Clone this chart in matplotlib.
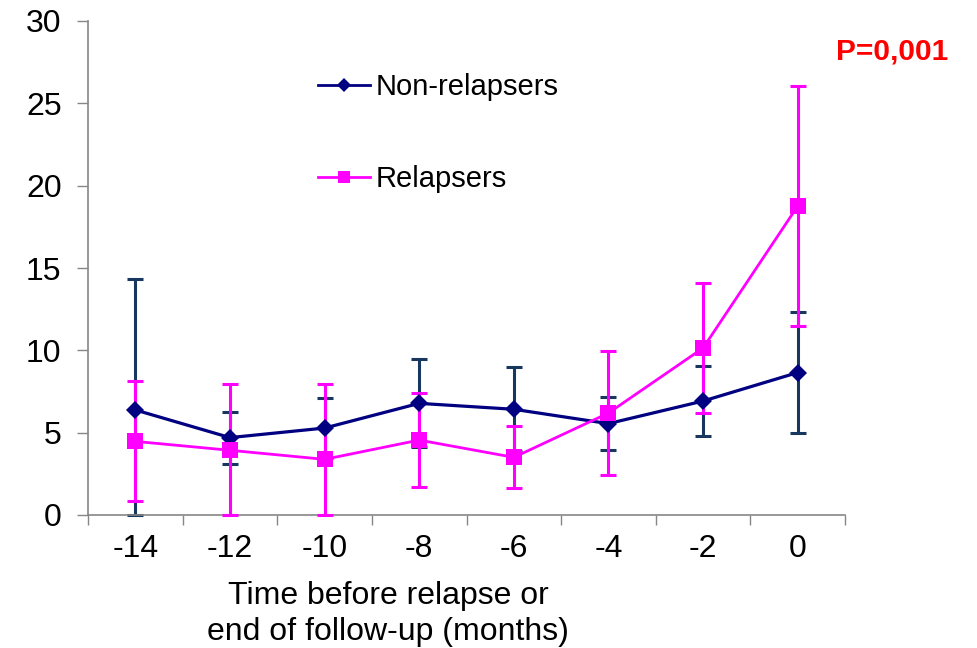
import numpy as np
import matplotlib
matplotlib.use("Agg")
import matplotlib.pyplot as plt
from matplotlib.ticker import FixedLocator
from matplotlib.lines import Line2D

plt.rcParams['font.family'] = ['Liberation Sans', 'DejaVu Sans']

months = ["-14", "-12", "-10", "-8", "-6", "-4", "-2", "0"]
non_relapsers = [6.38, 4.70, 5.28, 6.78, 6.42, 5.55, 6.92, 8.65]
non_relapsers_err = [7.95, 1.58, 1.80, 2.67, 2.55, 1.62, 2.12, 3.65]
relapsers = [4.47, 3.93, 3.38, 4.55, 3.50, 6.19, 10.14, 18.76]
relapsers_err = [3.65, 4.00, 4.55, 2.85, 1.88, 3.78, 3.95, 7.28]

NAVY = '#000080'
NAVY_ERR = '#17375E'
PINK = '#FF00FF'
AXIS_C = '#868686'
YMIN, YMAX = 0, 30

fig = plt.figure(figsize=(9.77, 6.48), dpi=100)
ax = fig.add_axes([88/977, 1-515/648, (845-88)/977, (515-21)/648])

x = np.arange(len(months))

def draw(vals, err, color, ecolor, marker, ms, lw, z):
    vals = np.array(vals); err = np.array(err)
    lower = np.minimum(err, vals - YMIN)
    upper = np.minimum(err, YMAX - vals)
    ax.errorbar(x, vals, yerr=[lower, upper], fmt='none', ecolor=ecolor,
                elinewidth=2.2, capsize=6, capthick=2.2, zorder=z, clip_on=False)
    ax.plot(x, vals, '-', color=color, lw=lw, zorder=z + 2, solid_joinstyle='miter')
    ax.plot(x, vals, linestyle='none', marker=marker, ms=ms, color=color,
            markeredgewidth=0, zorder=z + 4)

draw(non_relapsers, non_relapsers_err, NAVY, NAVY_ERR, 'D', 9, 2.3, 2)
draw(relapsers, relapsers_err, PINK, PINK, 's', 11, 2.0, 3)

ax.set_xlim(-0.5, len(months) - 0.5)
ax.set_ylim(YMIN, YMAX)
ax.set_yticks(np.arange(0, 31, 5))
ax.set_xticks(x)
ax.set_xticklabels(months)
ax.xaxis.set_minor_locator(FixedLocator(np.arange(-0.5, len(months), 1.0)))
ax.tick_params(axis='x', which='major', length=0, pad=14, labelsize=23)
ax.tick_params(axis='x', which='minor', length=7, width=1, color=AXIS_C, direction='out')
ax.tick_params(axis='y', length=8, width=1, color=AXIS_C, direction='out', pad=11, labelsize=23)

for s in ['top', 'right']:
    ax.spines[s].set_visible(False)
for s in ['left', 'bottom']:
    ax.spines[s].set_color(AXIS_C)
    ax.spines[s].set_linewidth(1.2)

handles = [Line2D([], [], color=NAVY, lw=2.0, marker='D', ms=7.5, markeredgewidth=0),
           Line2D([], [], color=PINK, lw=2.0, marker='s', ms=9, markeredgewidth=0)]
fig.legend(handles, ["Non-relapsers", "Relapsers"], loc='upper left',
           bbox_to_anchor=(318/977, 1-73/648), frameon=False, fontsize=21,
           handlelength=1.78, handletextpad=0.2, labelspacing=2.2,
           borderpad=0, borderaxespad=0)

fig.text(388/977, 1-596/648, "Time before relapse or", ha='center', va='center', fontsize=23)
fig.text(388/977, 1-632/648, "end of follow-up (months)", ha='center', va='center', fontsize=23)
fig.text(892/977, 1-52/648, "P=0,001", ha='center', va='center', fontsize=21.5,
         fontweight='bold', color='#FF0000')

fig.savefig("out.png", dpi=100)
